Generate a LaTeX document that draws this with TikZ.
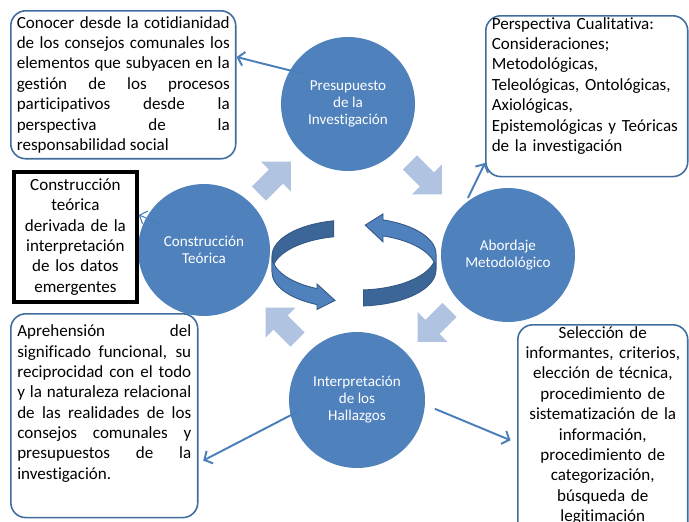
\documentclass[tikz,border=0pt]{standalone}
\usepackage{fontspec}
\setmainfont{Carlito}[Ligatures=NoCommon]
\usepackage{xcolor}
\usepackage{tikz}
\usetikzlibrary{arrows.meta,positioning}

\definecolor{circblue}{RGB}{79,129,189}
\definecolor{boxline}{RGB}{65,109,158}
\definecolor{linkblue}{RGB}{74,126,187}
\definecolor{cyclefill}{RGB}{176,195,224}
\definecolor{ribdark}{RGB}{61,102,152}
\definecolor{ribedge}{RGB}{52,88,133}

\newcommand{\boxfont}{\fontsize{9.7}{11.6}\selectfont}
\newcommand{\circfont}{\fontsize{8.6}{9.7}\selectfont}
\newcommand{\cyclearrow}[2]{%
  \fill[cyclefill,shift={(#1)},rotate=#2] (-22,-10) -- (2,-10) -- (2,-21) -- (23,0) -- (2,21) -- (2,10) -- (-22,10) -- cycle;}

\begin{document}
\begin{tikzpicture}[x=0.02cm,y=0.02cm,
  phase/.style={circle,fill=circblue,text=white,inner sep=0pt,minimum size=2.68cm,align=center,font=\circfont},
  note/.style={draw=boxline,line width=0.9pt,rounded corners=0.3cm,anchor=north west,font=\boxfont,inner ysep=0.03cm},
  link/.style={draw=linkblue,line width=1.1pt,-{Straight Barb[length=3.5pt,width=8pt]}},
  linkthin/.style={link,line width=0.6pt}]
  \useasboundingbox (0,0) rectangle (689,-521);
  % light cycle arrows
  \cyclearrow{274.5,-178}{45}
  \cyclearrow{425.5,-178}{-45}
  \cyclearrow{434,-325.5}{-135}
  \cyclearrow{282,-324}{135}
  % central ribbons
  \filldraw[fill=ribdark,draw=ribedge,line width=0.5pt] (333.78,-220.79) arc[start angle=102,end angle=180,x radius=78,y radius=36] -- ++(0,-16) arc[start angle=180,end angle=102,x radius=78,y radius=36] -- cycle;
  \filldraw[fill=circblue,draw=ribedge,line width=0.5pt] (272,-256) arc[start angle=180,end angle=245,x radius=78,y radius=36] -- (317,-284) -- (335,-300.4) -- (317,-309.5) -- (317,-304.6) arc[start angle=245,end angle=180,x radius=78,y radius=36] -- cycle;
  \filldraw[fill=ribdark,draw=ribedge,line width=0.5pt] (363.44,-289.91) arc[start angle=-86,end angle=0,x radius=78,y radius=36] -- ++(0,-16) arc[start angle=0,end angle=-86,x radius=78,y radius=36] -- cycle;
  \filldraw[fill=circblue,draw=ribedge,line width=0.5pt] (436,-254) arc[start angle=0,end angle=71.3,x radius=78,y radius=36] -- (383,-213.9) -- (365.2,-225.1) -- (383,-241.9) -- (383,-235.9) arc[start angle=71.3,end angle=0,x radius=78,y radius=36] -- cycle;
  % phases
  \node[phase] (pres) at (348,-104) {Presupuesto\\de la\\Investigación};
  \node[phase] (abord) at (508,-255) {Abordaje\\Metodológico};
  \node[phase,minimum size=2.64cm] (const) at (204,-250) {Construcción\\Teórica};
  \node[phase,minimum size=2.72cm] (interp) at (357,-400) {Interpretación\\de los\\Hallazgos};
  % notes
  \node[note,text width=4.26cm,inner xsep=0.12cm,minimum height=2.96cm,align=justify] (box1) at (10,-10)
    {Conocer desde la cotidianidad\linebreak de los consejos comunales los\linebreak elementos que subyacen en la\linebreak gestión de los procesos\linebreak participativos desde la\linebreak perspectiva de la\linebreak responsabilidad social};
  \node[note,text width=3.8cm,inner xsep=0.12cm,align=left,text depth=2.92cm] (box2) at (485,-15)
    {Perspectiva Cualitativa:\\Consideraciones;\\Metodológicas,\\Teleológicas, Ontológicas,\\Axiológicas,\\Epistemológicas y Teóricas\\de la investigación};
  \node[note,draw=black,line width=2.2pt,rounded corners=0pt,text width=2.3cm,inner sep=0pt,minimum width=2.46cm,minimum height=2.6cm,align=center] (box3) at (12,-170)
    {Construcción\\teórica\\derivada de la\\interpretación\\de los datos\\emergentes};
  \node[note,text width=3.48cm,inner xsep=0.13cm,inner ysep=0.22cm,align=justify,text depth=3.4cm] (box4) at (10,-313)
    {Aprehensión del\linebreak significado funcional, su\linebreak reciprocidad con el todo\linebreak y la naturaleza relacional\linebreak de las realidades de los\linebreak consejos comunales y\linebreak presupuestos de la\linebreak investigación.};
  \node[note,text width=3.2cm,inner xsep=0.1cm,align=center,text depth=4.4cm] (box5) at (517,-324)
    {Selección de\\informantes, criterios,\\elección de técnica,\\procedimiento de\\sistematización de la\\información,\\procedimiento de\\categorización,\\búsqueda de\\legitimación};
  % links to the notes
  \draw[link,shorten <=-7pt] (pres.150) -- ([yshift=-0.94cm]box1.north east);
  \draw[link,shorten <=3pt] (abord.129) -- ([yshift=-2.96cm]box2.north west);
  \draw[linkthin,shorten <=-9pt] (const.151) -- ([yshift=-0.9cm]box3.north east);
  \draw[link,shorten <=-5pt,shorten >=3pt] (interp.193) -- ([yshift=-3cm]box4.north east);
  \draw[link,shorten <=6pt,shorten >=4pt] (interp.-4) -- ([yshift=-2.38cm]box5.north west);
\end{tikzpicture}
\end{document}
